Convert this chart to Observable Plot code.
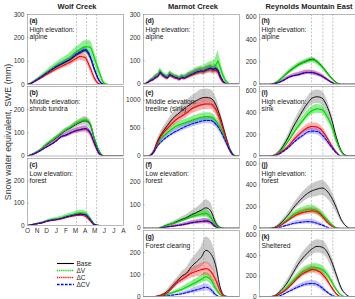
<!DOCTYPE html>
<html>
<head>
<meta charset="utf-8">
<script src="https://cdn.jsdelivr.net/npm/d3@7"></script>
<script src="https://cdn.jsdelivr.net/npm/@observablehq/plot@0.6"></script>
<style>
  html, body { margin: 0; padding: 0; background: #fff; overflow: hidden; }
  #fig { position: relative; width: 355px; height: 299px; font-family: "Liberation Sans", Arial, sans-serif; color: #222; }
  #fig svg { position: absolute; overflow: visible; }
  .coltitle { position: absolute; top: 2px; width: 96px; text-align: center; font-weight: bold; font-size: 7.5px; line-height: 10px; white-space: nowrap; }
  .ylab { position: absolute; left: 8px; top: 132px; transform: translate(-50%, -50%) rotate(-90deg); font-size: 8.8px; white-space: nowrap; color: #333; }
</style>
</head>
<body>
<div id="fig"></div>
<script>
// Months since 1 October (O = 0 ... A = 10)
const months = [0, 0.5, 1, 1.5, 2, 2.5, 3, 3.5, 4, 4.5, 5, 5.5, 6, 6.5, 7, 7.5, 8, 8.5, 9, 9.5, 10];
const monthsFine = [0, 0.25, 0.5, 0.75, 1, 1.25, 1.5, 1.75, 2, 2.25, 2.5, 2.75, 3, 3.25, 3.5, 3.75, 4, 4.25, 4.5, 4.75,
  5, 5.25, 5.5, 5.75, 6, 6.25, 6.5, 6.75, 7, 7.25, 7.5, 7.75, 8, 8.25, 8.5, 8.75, 9, 9.25, 9.5, 9.75, 10];
const monthTicks = [0, 1, 2, 3, 4, 5, 6, 7, 8, 9, 10];
const monthLabels = ["O", "N", "D", "J", "F", "M", "A", "M", "J", "J", "A"];

const siteNames = ["Wolf Creek", "Marmot Creek", "Reynolds Mountain East"];
const seriesNames = ["Base", "ΔV", "ΔC", "ΔCV"];

// SWE (mm) per scenario, order: Base, ΔV, ΔC, ΔCV
const wolfHigh = [
  [0, 8, 20, 34, 48, 62, 75, 86, 97, 108, 124, 136, 145, 118, 60, 15, 0, 0, 0, 0, 0],
  [0, 9, 22, 37, 52, 67, 81, 93, 105, 118, 136, 150, 162, 160, 110, 50, 5, 0, 0, 0, 0],
  [0, 7, 18, 30, 43, 55, 67, 77, 87, 97, 110, 120, 115, 75, 25, 2, 0, 0, 0, 0, 0],
  [0, 8, 21, 35, 49, 63, 77, 88, 99, 110, 128, 140, 150, 125, 65, 15, 0, 0, 0, 0, 0]];
const wolfHighSpread = [
  [0, 2, 3, 4, 5, 6, 7, 8, 9, 10, 11, 12, 12, 12, 10, 6, 0, 0, 0, 0, 0],
  [0, 3, 5, 7, 9, 11, 13, 15, 17, 19, 21, 23, 25, 28, 28, 22, 8, 0, 0, 0, 0],
  [0, 2, 4, 6, 8, 10, 11, 12, 13, 14, 16, 17, 17, 16, 12, 4, 0, 0, 0, 0, 0],
  [0, 2, 3, 4, 5, 6, 7, 8, 9, 10, 11, 12, 12, 12, 10, 5, 0, 0, 0, 0, 0]];

const wolfMid = [
  [0, 7, 17, 31, 49, 63, 78, 95, 110, 121, 135, 145, 152, 138, 70, 18, 0, 0, 0, 0, 0],
  [0, 7, 18, 33, 52, 66, 82, 98, 113, 125, 139, 149, 156, 142, 74, 20, 0, 0, 0, 0, 0],
  [0, 6, 15, 27, 40, 52, 66, 83, 90, 100, 108, 113, 116, 100, 50, 8, 0, 0, 0, 0, 0],
  [0, 6, 15, 27, 39, 51, 65, 83, 90, 100, 109, 114, 119, 104, 54, 10, 0, 0, 0, 0, 0]];
const wolfMidSpread = [
  [0, 2, 3, 4, 6, 7, 8, 10, 11, 12, 14, 16, 18, 18, 14, 6, 0, 0, 0, 0, 0],
  [0, 1, 2, 3, 4, 4, 5, 5, 6, 6, 7, 7, 8, 8, 7, 4, 0, 0, 0, 0, 0],
  [0, 2, 3, 4, 6, 7, 8, 9, 10, 11, 12, 13, 14, 14, 12, 5, 0, 0, 0, 0, 0],
  [0, 2, 3, 4, 5, 6, 7, 8, 9, 10, 11, 11, 12, 12, 10, 4, 0, 0, 0, 0, 0]];

const wolfLow = [
  [0, 4, 8, 12, 19, 24, 27, 31, 38, 43, 48, 51, 48, 28, 4, 0, 0, 0, 0, 0, 0],
  [0, 4, 9, 13, 21, 26, 30, 34, 41, 47, 53, 57, 55, 34, 6, 0, 0, 0, 0, 0, 0],
  [0, 4, 8, 11, 18, 22, 25, 29, 35, 40, 44, 46, 42, 22, 2, 0, 0, 0, 0, 0, 0],
  [0, 4, 8, 12, 19, 24, 27, 31, 38, 43, 48, 51, 49, 28, 4, 0, 0, 0, 0, 0, 0]];
const wolfLowSpread = [
  [0, 1, 1, 2, 2, 3, 3, 3, 4, 4, 4, 5, 5, 4, 2, 0, 0, 0, 0, 0, 0],
  [0, 1, 2, 3, 4, 5, 6, 7, 8, 9, 10, 11, 11, 9, 4, 0, 0, 0, 0, 0, 0],
  [0, 1, 1, 2, 2, 3, 3, 3, 4, 4, 4, 5, 5, 4, 2, 0, 0, 0, 0, 0, 0],
  [0, 1, 1, 2, 2, 3, 3, 3, 4, 4, 4, 5, 5, 4, 2, 0, 0, 0, 0, 0, 0]];

// Marmot Creek alpine site, finer time steps
const marmotHigh = [
  [0, 2, 8, 15, 20, 30, 35, 52, 40, 32, 28, 42, 36, 30, 28, 22, 30, 27, 32, 38, 42, 47, 52, 55, 58, 56, 62, 66, 70, 64, 68, 62, 35, 15, 4, 0, 0, 0, 0, 0, 0],
  [0, 2, 9, 16, 22, 32, 38, 56, 44, 35, 30, 45, 39, 33, 30, 25, 33, 30, 35, 41, 45, 50, 55, 58, 61, 60, 66, 70, 74, 72, 80, 100, 70, 40, 18, 6, 0, 0, 0, 0, 0],
  [0, 2, 7, 14, 18, 27, 32, 48, 37, 29, 25, 38, 33, 27, 25, 20, 27, 24, 29, 35, 38, 43, 48, 51, 54, 52, 57, 61, 64, 58, 60, 52, 25, 8, 2, 0, 0, 0, 0, 0, 0],
  [0, 2, 8, 15, 20, 29, 34, 50, 39, 31, 27, 40, 35, 29, 27, 21, 29, 26, 31, 37, 41, 46, 51, 54, 57, 55, 61, 65, 69, 62, 66, 58, 32, 13, 3, 0, 0, 0, 0, 0, 0]];
const marmotHighSpread = [
  [0, 2, 4, 6, 8, 10, 10, 12, 10, 10, 10, 12, 10, 10, 10, 10, 10, 10, 10, 12, 12, 12, 14, 14, 14, 14, 15, 15, 16, 16, 18, 18, 12, 6, 2, 0, 0, 0, 0, 0, 0],
  [0, 2, 4, 6, 8, 10, 10, 14, 10, 10, 10, 12, 10, 10, 10, 10, 10, 10, 12, 12, 14, 14, 16, 16, 18, 18, 20, 22, 24, 26, 30, 45, 35, 22, 12, 5, 0, 0, 0, 0, 0],
  [0, 2, 4, 6, 8, 10, 10, 12, 10, 10, 10, 12, 10, 10, 10, 10, 10, 10, 10, 12, 12, 12, 14, 14, 14, 14, 15, 15, 16, 16, 16, 14, 8, 4, 1, 0, 0, 0, 0, 0, 0],
  [0, 2, 3, 5, 6, 8, 8, 10, 8, 8, 8, 10, 8, 8, 8, 8, 8, 8, 8, 10, 10, 10, 11, 11, 12, 12, 12, 12, 13, 13, 13, 12, 8, 4, 1, 0, 0, 0, 0, 0, 0]];

const marmotMid = [
  [0, 0, 70, 280, 430, 550, 665, 745, 815, 885, 945, 995, 1040, 1055, 1040, 935, 700, 400, 130, 5, 0],
  [0, 0, 55, 220, 340, 420, 490, 545, 580, 610, 640, 670, 695, 708, 705, 640, 520, 320, 130, 10, 0],
  [0, 0, 60, 250, 400, 500, 590, 665, 720, 775, 845, 890, 920, 935, 935, 850, 640, 370, 100, 0, 0],
  [0, 0, 50, 190, 280, 350, 410, 455, 500, 540, 575, 600, 625, 640, 637, 580, 460, 280, 100, 5, 0]];
const marmotMidSpread = [
  [0, 0, 20, 50, 70, 80, 90, 100, 110, 120, 130, 140, 150, 150, 150, 140, 120, 90, 50, 5, 0],
  [0, 0, 15, 35, 45, 50, 55, 60, 60, 62, 65, 68, 70, 70, 70, 68, 60, 45, 25, 5, 0],
  [0, 0, 15, 40, 55, 65, 70, 75, 80, 85, 90, 95, 100, 100, 100, 95, 85, 60, 30, 0, 0],
  [0, 0, 12, 30, 40, 45, 48, 50, 52, 55, 56, 58, 60, 60, 60, 58, 52, 40, 20, 3, 0]];

const marmotLow = [
  [0, 0, 0, 0, 6, 14, 20, 29, 38, 46, 58, 67, 78, 88, 75, 25, 3, 0, 0, 0, 0],
  [0, 0, 0, 0, 6, 13, 19, 26, 34, 41, 50, 56, 61, 64, 48, 15, 3, 0, 0, 0, 0],
  [0, 0, 0, 0, 3, 6, 9, 12, 15, 19, 24, 27, 30, 31, 25, 7, 0, 0, 0, 0, 0],
  [0, 0, 0, 0, 3, 6, 9, 12, 15, 19, 24, 27, 29, 32, 26, 7, 0, 0, 0, 0, 0]];
const marmotLowSpread = [
  [0, 0, 0, 0, 3, 5, 7, 9, 11, 13, 16, 20, 25, 35, 35, 20, 4, 0, 0, 0, 0],
  [0, 0, 0, 0, 2, 4, 5, 6, 7, 8, 10, 12, 14, 16, 15, 10, 3, 0, 0, 0, 0],
  [0, 0, 0, 0, 2, 3, 4, 5, 6, 7, 8, 9, 10, 11, 10, 5, 0, 0, 0, 0, 0],
  [0, 0, 0, 0, 2, 3, 4, 5, 6, 7, 8, 9, 10, 11, 10, 5, 0, 0, 0, 0, 0]];

const marmotClearing = [
  [0, 0, 0, 3, 10, 25, 48, 70, 93, 107, 137, 157, 178, 210, 195, 145, 40, 3, 0, 0, 0],
  [0, 0, 0, 1, 4, 10, 18, 25, 33, 44, 55, 66, 78, 90, 78, 40, 10, 0, 0, 0, 0],
  [0, 0, 0, 2, 8, 18, 40, 63, 78, 93, 107, 115, 122, 127, 115, 78, 25, 0, 0, 0, 0],
  [0, 0, 0, 0, 2, 4, 7, 10, 13, 19, 25, 31, 37, 43, 33, 10, 0, 0, 0, 0, 0]];
const marmotClearingSpread = [
  [0, 0, 0, 2, 4, 8, 12, 16, 20, 25, 30, 38, 45, 60, 60, 45, 20, 3, 0, 0, 0],
  [0, 0, 0, 1, 2, 4, 6, 8, 10, 12, 14, 16, 18, 20, 20, 15, 6, 0, 0, 0, 0],
  [0, 0, 0, 1, 3, 6, 10, 13, 16, 18, 22, 25, 28, 30, 30, 25, 12, 0, 0, 0, 0],
  [0, 0, 0, 0, 1, 2, 4, 5, 7, 9, 11, 13, 15, 16, 14, 8, 0, 0, 0, 0, 0]];

const reynoldsAlpine = [
  [0, 0, 0, 6, 31, 69, 109, 141, 172, 194, 212, 225, 203, 162, 109, 56, 16, 0, 0, 0, 0],
  [0, 0, 0, 6, 30, 67, 106, 138, 168, 190, 207, 218, 198, 158, 106, 54, 15, 0, 0, 0, 0],
  [0, 0, 0, 4, 16, 37, 62, 78, 87, 100, 108, 106, 94, 75, 47, 19, 0, 0, 0, 0, 0],
  [0, 0, 0, 4, 15, 35, 60, 76, 85, 98, 106, 104, 92, 73, 45, 17, 0, 0, 0, 0, 0]];
const reynoldsAlpineSpread = [
  [0, 0, 0, 2, 4, 6, 8, 9, 10, 10, 10, 10, 10, 9, 8, 6, 3, 0, 0, 0, 0],
  [0, 0, 0, 3, 8, 14, 18, 21, 23, 24, 25, 25, 24, 22, 18, 12, 5, 0, 0, 0, 0],
  [0, 0, 0, 2, 6, 10, 14, 16, 18, 19, 20, 20, 19, 17, 13, 8, 2, 0, 0, 0, 0],
  [0, 0, 0, 2, 6, 10, 14, 16, 18, 19, 20, 20, 19, 17, 13, 8, 2, 0, 0, 0, 0]];

const reynoldsSink = [
  [0, 0, 0, 6, 37, 98, 175, 268, 345, 422, 489, 538, 550, 538, 468, 345, 175, 52, 6, 0, 0],
  [0, 0, 0, 5, 28, 77, 138, 206, 274, 329, 385, 422, 437, 431, 375, 283, 145, 43, 0, 0, 0],
  [0, 0, 0, 4, 22, 52, 89, 145, 191, 231, 262, 274, 268, 237, 175, 98, 37, 0, 0, 0, 0],
  [0, 0, 0, 3, 15, 43, 77, 120, 160, 191, 222, 231, 228, 197, 145, 83, 28, 0, 0, 0, 0]];
const reynoldsSinkSpread = [
  [0, 0, 0, 3, 10, 20, 30, 38, 45, 50, 55, 60, 62, 62, 60, 50, 35, 15, 3, 0, 0],
  [0, 0, 0, 2, 8, 15, 22, 28, 33, 36, 38, 40, 40, 40, 38, 32, 22, 10, 0, 0, 0],
  [0, 0, 0, 2, 7, 12, 18, 23, 27, 30, 33, 35, 35, 34, 30, 22, 10, 0, 0, 0, 0],
  [0, 0, 0, 2, 6, 10, 15, 19, 23, 26, 28, 30, 30, 29, 26, 19, 8, 0, 0, 0, 0]];

const reynoldsForest = [
  [0, 0, 0, 6, 31, 75, 125, 187, 240, 287, 325, 350, 365, 375, 350, 287, 193, 84, 22, 0, 0],
  [0, 0, 0, 4, 19, 53, 84, 125, 147, 162, 175, 178, 162, 131, 84, 37, 6, 0, 0, 0, 0],
  [0, 0, 0, 3, 16, 44, 75, 106, 131, 147, 156, 162, 153, 116, 62, 22, 0, 0, 0, 0, 0],
  [0, 0, 0, 2, 6, 19, 31, 44, 53, 59, 62, 59, 47, 31, 12, 0, 0, 0, 0, 0, 0]];
const reynoldsForestSpread = [
  [0, 0, 0, 3, 10, 18, 25, 33, 40, 48, 55, 62, 68, 70, 68, 60, 45, 22, 6, 0, 0],
  [0, 0, 0, 2, 7, 14, 20, 25, 30, 33, 35, 36, 35, 32, 25, 14, 3, 0, 0, 0, 0],
  [0, 0, 0, 2, 6, 12, 17, 22, 26, 28, 30, 30, 29, 26, 18, 8, 0, 0, 0, 0, 0],
  [0, 0, 0, 1, 4, 8, 12, 16, 19, 21, 22, 22, 20, 16, 8, 0, 0, 0, 0, 0, 0]];

const reynoldsSheltered = [
  [0, 0, 0, 6, 39, 87, 152, 232, 313, 377, 426, 468, 490, 484, 442, 345, 216, 87, 23, 0, 0],
  [0, 0, 0, 5, 23, 55, 103, 152, 200, 242, 265, 281, 281, 265, 223, 152, 71, 16, 0, 0, 0],
  [0, 0, 0, 5, 23, 48, 87, 135, 184, 223, 248, 265, 255, 223, 168, 94, 29, 0, 0, 0, 0],
  [0, 0, 0, 2, 6, 23, 48, 71, 94, 113, 126, 129, 119, 87, 48, 16, 0, 0, 0, 0, 0]];
const reynoldsShelteredSpread = [
  [0, 0, 0, 3, 10, 20, 30, 38, 45, 52, 58, 62, 65, 65, 62, 55, 40, 20, 5, 0, 0],
  [0, 0, 0, 2, 8, 15, 22, 28, 33, 36, 38, 40, 40, 38, 35, 28, 15, 5, 0, 0, 0],
  [0, 0, 0, 2, 7, 12, 18, 23, 27, 30, 33, 35, 34, 32, 27, 18, 8, 0, 0, 0, 0],
  [0, 0, 0, 1, 4, 8, 12, 16, 20, 23, 26, 28, 28, 25, 18, 8, 0, 0, 0, 0, 0]];

// Reference dates marked in each basin (months since 1 October)
const markDates = [[5.1, 6.15, 7.2], [5.24, 6.28, 7.32], [5.42, 6.6, 7.64]];

// Line and band styles for each scenario
const styles = {
  "Base": {stroke: "#000000", width: 0.9, dash: null, band: "#8a8a8a", op: 0.45},
  "ΔV": {stroke: "#00d400", width: 1.2, dash: "1.2,0.9", band: "#00dd00", op: 0.45},
  "ΔC": {stroke: "#ff0000", width: 1.2, dash: "1.2,0.9", band: "#ff2a2a", op: 0.36},
  "ΔCV": {stroke: "#0000ff", width: 1.1, dash: "2.6,1.4", band: "#3a3aff", op: 0.3}
};

const colLeft = [27, 143, 259];
const PW = 96, ML = 24, MR = 2, MT = 2;
const FONT = '"Liberation Sans", Arial, sans-serif';

const panels = [
  {col: 0, top: 13.5, bottom: 83.5, ymax: 300, yticks: [0, 100, 200, 300], tag: "(a)", label: "High elevation:\nalpine", xs: months, values: wolfHigh, spread: wolfHighSpread},
  {col: 0, top: 86, bottom: 155.5, ymax: 300, yticks: [0, 100, 200], tag: "(b)", label: "Middle elevation:\nshrub tundra", xs: months, values: wolfMid, spread: wolfMidSpread},
  {col: 0, top: 157.5, bottom: 224.5, ymax: 300, yticks: [0, 100, 200], tag: "(c)", label: "Low elevation:\nforest", xs: months, values: wolfLow, spread: wolfLowSpread, xAxis: true},
  {col: 1, top: 13.5, bottom: 83, ymax: 300, yticks: [0, 100, 200, 300], tag: "(d)", label: "High elevation:\nalpine", xs: monthsFine, values: marmotHigh, spread: marmotHighSpread, curve: "linear"},
  {col: 1, top: 86, bottom: 155.5, ymax: 1250, yticks: [0, 500, 1000], tag: "(e)", label: "Middle elevation:\ntreeline (sink)", xs: months, values: marmotMid, spread: marmotMidSpread},
  {col: 1, top: 157.5, bottom: 227.3, ymax: 300, yticks: [0, 100, 200], tag: "(f)", label: "Low elevation:\nforest", xs: months, values: marmotLow, spread: marmotLowSpread},
  {col: 1, top: 229.5, bottom: 295.7, ymax: 300, yticks: [0, 100, 200], tag: "(g)", label: "Forest clearing", xs: months, values: marmotClearing, spread: marmotClearingSpread},
  {col: 2, top: 13.5, bottom: 83.3, ymax: 625, yticks: [0, 200, 400, 600], tag: "(h)", label: "High elevation:\nalpine", xs: months, values: reynoldsAlpine, spread: reynoldsAlpineSpread},
  {col: 2, top: 86, bottom: 155.5, ymax: 645, yticks: [0, 200, 400, 600], tag: "(i)", label: "High elevation:\nsink", xs: months, values: reynoldsSink, spread: reynoldsSinkSpread},
  {col: 2, top: 157.5, bottom: 227.3, ymax: 650, yticks: [0, 200, 400, 600], tag: "(j)", label: "High elevation:\nforest", xs: months, values: reynoldsForest, spread: reynoldsForestSpread},
  {col: 2, top: 229.5, bottom: 295.7, ymax: 645, yticks: [0, 200, 400, 600], tag: "(k)", label: "Sheltered", xs: months, values: reynoldsSheltered, spread: reynoldsShelteredSpread}
];

const fig = document.getElementById("fig");

function drawPanel(p) {
  const MB = p.xAxis ? 12 : 2;
  const h = p.bottom - p.top;
  const curve = p.curve || "monotone-x";
  const rows = [];
  seriesNames.forEach((name, k) => {
    p.xs.forEach((m, i) => {
      const v = p.values[k][i];
      const s = p.spread[k][i] ?? 0;
      rows.push({m, name, v, lo: Math.max(0, v - s), hi: v + s});
    });
  });
  const bySeries = name => rows.filter(r => r.name === name);
  const marks = [
    Plot.ruleX(markDates[p.col], {stroke: "#a0a0a0", strokeWidth: 0.6, strokeDasharray: "2,1.5"}),
    ...seriesNames.map(name => Plot.areaY(bySeries(name), {
      x: "m", y1: "lo", y2: "hi", fill: styles[name].band, fillOpacity: styles[name].op, curve, clip: true
    })),
    ...seriesNames.map(name => Plot.lineY(bySeries(name), {
      x: "m", y: "v", stroke: styles[name].stroke, strokeWidth: styles[name].width,
      strokeDasharray: styles[name].dash, curve, clip: true
    })),
    Plot.frame({stroke: "#9a9a9a", strokeWidth: 0.7}),
    Plot.ruleY(p.yticks, {x1: 0, x2: 0.18, stroke: "#888", strokeWidth: 0.5}),
    Plot.axisY({ticks: p.yticks, tickSize: 0, tickPadding: 3, fontSize: 6.5, label: null, tickFormat: d => String(d)}),
    Plot.text([p.tag], {frameAnchor: "top-left", dx: 2, dy: 4, fontSize: 6.5, fontWeight: "bold", lineAnchor: "top", fill: "#111"}),
    Plot.text([p.label], {frameAnchor: "top-left", dx: 2, dy: 13, fontSize: 6.8, lineAnchor: "top", lineHeight: 1.0, fill: "#222"})
  ];
  if (p.xAxis) {
    marks.push(Plot.axisX({ticks: monthTicks, tickSize: 0, tickPadding: 3, fontSize: 6.5, label: null, tickFormat: i => monthLabels[i]}));
  }
  const svg = Plot.plot({
    width: PW + ML + MR, height: h + MT + MB,
    marginLeft: ML, marginRight: MR, marginTop: MT, marginBottom: MB,
    x: {domain: [0, 10], axis: null},
    y: {domain: [0, p.ymax], axis: null},
    style: {background: "transparent", overflow: "visible", fontFamily: FONT, color: "#333"},
    marks
  });
  svg.style.left = (colLeft[p.col] - ML) + "px";
  svg.style.top = (p.top - MT) + "px";
  fig.append(svg);
}

panels.forEach(drawPanel);

// Basin titles
siteNames.forEach((name, c) => {
  const d = document.createElement("div");
  d.className = "coltitle";
  d.style.left = (colLeft[c] + 2) + "px";
  d.textContent = name;
  fig.append(d);
});

// Shared y-axis title
const yl = document.createElement("div");
yl.className = "ylab";
yl.textContent = "Snow water equivalent, SWE (mm)";
fig.append(yl);

// Scenario legend
const legend = Plot.plot({
  width: 40, height: 32, margin: 0,
  x: {domain: [0, 40], range: [0, 40], axis: null},
  y: {domain: seriesNames, range: [0, 32], type: "band", axis: null},
  style: {background: "transparent", overflow: "visible", fontFamily: FONT, color: "#222"},
  marks: [
    ...seriesNames.map(name => Plot.ruleY([name], {
      y: d => d, x1: 0, x2: 17, stroke: styles[name].stroke, strokeWidth: styles[name].width + 0.2,
      strokeDasharray: styles[name].dash
    })),
    Plot.text(seriesNames, {y: d => d, x: 19, text: d => d, textAnchor: "start", fontSize: 6.5})
  ]
});
legend.style.left = "57px";
legend.style.top = "258px";
fig.append(legend);
</script>
</body>
</html>
